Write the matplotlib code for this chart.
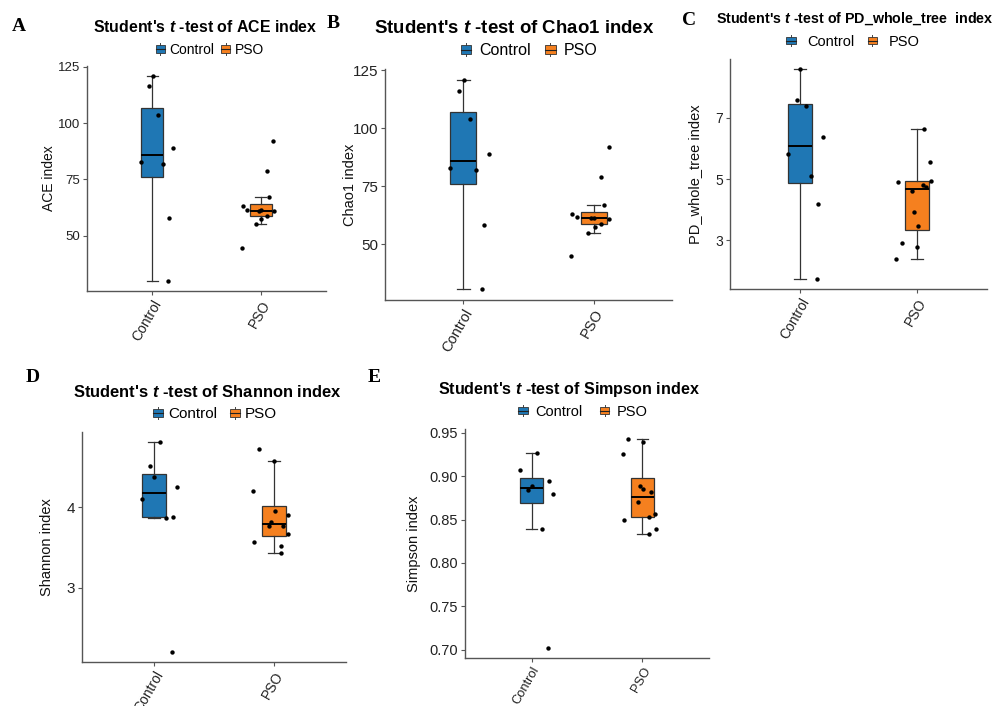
import matplotlib
matplotlib.use("Agg")
import matplotlib.pyplot as plt
import numpy as np
from matplotlib.lines import Line2D
from matplotlib.patches import Patch, Rectangle
from matplotlib.legend_handler import HandlerBase

plt.rcParams["font.family"] = ["Liberation Sans", "DejaVu Sans"]
plt.rcParams["mathtext.fontset"] = "custom"
plt.rcParams["mathtext.rm"] = "Liberation Sans"
plt.rcParams["mathtext.it"] = "Liberation Sans:italic"
plt.rcParams["mathtext.bf"] = "Liberation Sans:bold"
plt.rcParams["mathtext.bfit"] = "Liberation Sans:italic:bold"

GROUPS = ["Control", "PSO"]
COLORS = ["#1f77b4", "#f5801f"]

# horizontal jitter of each sample (same seed in every panel)
CTRL_JITTER = [0.003, -0.030, 0.050, 0.195, -0.100, 0.096, 0.157, 0.147]
PSO_JITTER = [0.116, 0.058, 0.076, -0.163, -0.128, -0.021, 0.004, 0.120,
              0.056, 0.006, -0.042, -0.177]

ace_control = [120.8, 116.3, 103.6, 88.7, 82.7, 81.8, 57.9, 29.9]
ace_pso = [92.0, 78.8, 67.0, 63.0, 61.3, 60.8, 61.2, 60.7, 58.9, 57.3, 55.2, 44.6]

chao1_control = [121.1, 116.2, 103.9, 88.9, 83.0, 82.2, 58.1, 30.4]
chao1_pso = [92.1, 79.0, 67.0, 63.0, 61.5, 61.1, 61.3, 60.8, 58.9, 57.5, 54.9, 44.8]

pd_control = [8.58, 7.59, 7.40, 6.37, 5.82, 5.10, 4.19, 1.75]
pd_pso = [5.56, 6.63, 4.75, 4.92, 2.91, 3.93, 2.79, 4.95, 4.80, 3.46, 4.61, 2.38]

shannon_control = [4.375, 4.52, 4.81, 4.26, 4.11, 3.875, 3.88, 2.205]
shannon_pso = [3.91, 3.525, 3.775, 3.57, 4.725, 3.825, 4.575, 3.67, 3.43, 3.96,
               3.775, 4.20]

simpson_control = [0.8883, 0.8837, 0.927, 0.8795, 0.9075, 0.8393, 0.8944, 0.7026]
simpson_pso = [0.8565, 0.8535, 0.8814, 0.8496, 0.9423, 0.8883, 0.9392, 0.8389,
               0.8335, 0.8849, 0.8703, 0.9259]

ace_ticks = [50, 75, 100, 125]
pd_ticks = [3, 5, 7]
shannon_ticks = [3, 4]
simpson_ticks = [0.70, 0.75, 0.80, 0.85, 0.90, 0.95]

W, H = 998, 706

panels = [
    dict(letter="A", metric="ACE", control=ace_control, pso=ace_pso,
         ylabel="ACE index", ticks=ace_ticks, fmt="{:g}",
         rect=(87, 66, 326, 291), title_xy=(205.5, 32.3), title_size=11.4,
         legend_xy=(210, 50), legend_size=10, colsp=0.5, textpad=0.35,
         tick_size=9.5, label_size=10, xtick_size=10,
         label_x=49, letter_xy=(12, 18)),
    dict(letter="B", metric="Chao1", control=chao1_control, pso=chao1_pso,
         ylabel="Chao1 index", ticks=ace_ticks, fmt="{:g}",
         rect=(385, 69, 672, 300), title_xy=(514, 33.3), title_size=13.4,
         legend_xy=(529, 50.7), legend_size=11.5, colsp=0.9, textpad=0.5,
         tick_size=11, label_size=10.5, xtick_size=10.5,
         label_x=350, letter_xy=(327, 15)),
    dict(letter="C", metric="PD_whole_tree ", control=pd_control, pso=pd_pso,
         ylabel="PD_whole_tree index", ticks=pd_ticks, fmt="{:g}",
         rect=(730, 59, 987, 289), title_xy=(855, 22.7), title_size=10.3,
         legend_xy=(853, 41.7), legend_size=10.5, colsp=0.9, textpad=0.8,
         tick_size=10, label_size=10.5, xtick_size=10,
         label_x=695, letter_xy=(682, 12)),
    dict(letter="D", metric="Shannon", control=shannon_control, pso=shannon_pso,
         ylabel="Shannon index", ticks=shannon_ticks, fmt="{:g}",
         rect=(82, 432, 346, 662), title_xy=(207.5, 397.3), title_size=11.9,
         legend_xy=(215, 414.3), legend_size=11, colsp=0.85, textpad=0.35,
         tick_size=11, label_size=10.5, xtick_size=10,
         label_x=47, letter_xy=(26, 369)),
    dict(letter="E", metric="Simpson", control=simpson_control, pso=simpson_pso,
         ylabel="Simpson index", ticks=simpson_ticks, fmt="{:.2f}",
         rect=(465, 429, 709, 658), title_xy=(568.5, 394), title_size=11.6,
         legend_xy=(583, 411.7), legend_size=10.5, colsp=1.2, textpad=0.5,
         tick_size=10.5, label_size=10.5, xtick_size=9.3,
         label_x=414, letter_xy=(368, 369)),
]


class BoxKey(HandlerBase):
    # little boxplot glyph: box, median and whisker stubs
    def create_artists(self, legend, orig_handle, xdescent, ydescent,
                       width, height, fontsize, trans):
        x0, y0 = -xdescent, -ydescent
        cx = x0 + width / 2
        stub = Line2D([cx, cx], [y0 - 0.25 * height, y0 + 1.25 * height],
                      color="#444444", lw=0.7)
        box = Rectangle((x0, y0), width, height, facecolor=orig_handle.get_facecolor(),
                        edgecolor="#333333", lw=0.6)
        med = Line2D([x0, x0 + width], [y0 + height / 2] * 2, color="#222222", lw=0.8)
        for a in (stub, box, med):
            a.set_transform(trans)
        return [stub, box, med]


def draw_panel(fig, p):
    x0, y0, x1, y1 = p["rect"]
    ax = fig.add_axes([x0 / W, 1 - y1 / H, (x1 - x0) / W, (y1 - y0) / H])

    bp = ax.boxplot([p["control"], p["pso"]], positions=[1, 2], widths=0.2,
                    patch_artist=True, showfliers=False,
                    medianprops=dict(color="black", lw=1.4),
                    whiskerprops=dict(color="#333333", lw=0.9),
                    capprops=dict(color="#333333", lw=0.9),
                    boxprops=dict(edgecolor="#333333", lw=0.9))
    for patch, c in zip(bp["boxes"], COLORS):
        patch.set_facecolor(c)

    ax.scatter(1 + np.array(CTRL_JITTER), p["control"], s=10, color="black", zorder=3, lw=0)
    ax.scatter(2 + np.array(PSO_JITTER), p["pso"], s=10, color="black", zorder=3, lw=0)

    vals = p["control"] + p["pso"]
    lo, hi = min(vals), max(vals)
    pad = 0.05 * (hi - lo)
    ax.set_ylim(lo - pad, hi + pad)
    ax.set_xlim(0.4, 2.6)

    ax.set_xticks([1, 2])
    ax.set_xticklabels(GROUPS, rotation=60, ha="right", va="top",
                       rotation_mode="anchor", fontsize=p["xtick_size"], color="#222222")
    ax.set_yticks(p["ticks"])
    ax.set_yticklabels([p["fmt"].format(t) for t in p["ticks"]],
                       fontsize=p["tick_size"], color="#222222")
    ax.tick_params(length=3, width=0.8, color="#555555", pad=2)

    for side in ["top", "right"]:
        ax.spines[side].set_visible(False)
    for side in ["left", "bottom"]:
        ax.spines[side].set_color("#555555")
        ax.spines[side].set_linewidth(1.0)

    ax.set_ylabel(p["ylabel"], fontsize=p["label_size"], color="#111111", va="center")
    ax.yaxis.set_label_coords((p["label_x"] - x0) / (x1 - x0), 0.5)

    tx, ty = p["title_xy"]
    fig.text(tx / W, 1 - ty / H,
             "Student's $\\mathbfit{t}$ -test of " + p["metric"] + " index",
             ha="center", va="baseline", fontsize=p["title_size"], fontweight="bold")

    lx, ly = p["legend_xy"]
    handles = [Patch(facecolor=c) for c in COLORS]
    fig.legend(handles, GROUPS, loc="center",
               bbox_to_anchor=(lx / W, 1 - ly / H), ncol=2, frameon=False,
               fontsize=p["legend_size"], handlelength=0.65, handleheight=0.45,
               handletextpad=p["textpad"], columnspacing=p["colsp"],
               borderpad=0, borderaxespad=0,
               handler_map={Patch: BoxKey()})

    cx, cy = p["letter_xy"]
    fig.text(cx / W, 1 - cy / H, p["letter"], ha="left", va="top",
             fontsize=14, fontweight="bold", family="Liberation Serif")


fig = plt.figure(figsize=(W / 100, H / 100), dpi=100)
for p in panels:
    draw_panel(fig, p)

fig.savefig("out.png", dpi=100)
